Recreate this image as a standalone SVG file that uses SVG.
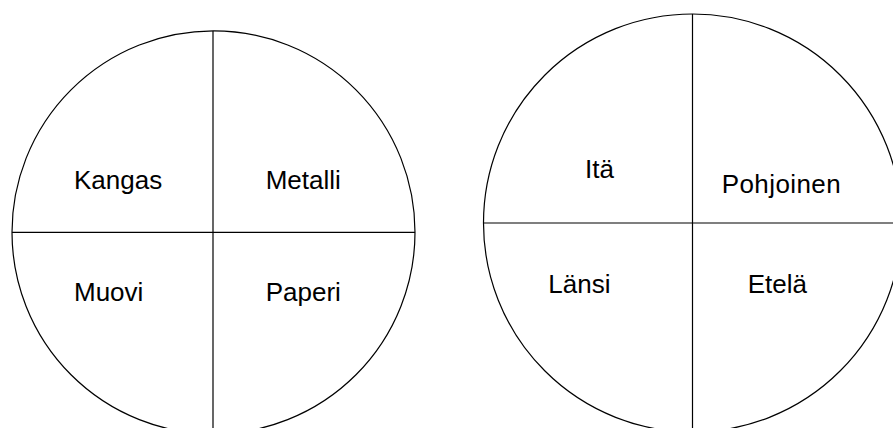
<svg xmlns="http://www.w3.org/2000/svg" width="893" height="428" viewBox="0 0 893 428">
<style>
.c{fill:none;stroke:#000;stroke-width:1.2}
.l{stroke:#000;stroke-width:1.2}
.t{font-family:"Liberation Sans",Arial,sans-serif;font-size:26px;fill:#000}
</style>
<rect width="893" height="428" fill="#fff"/>
<g id="circle-left">
<circle class="c" cx="213.5" cy="232.3" r="201.5"/>
</g>
<g id="circle-right">
<circle class="c" cx="692.5" cy="223" r="209"/>
</g>
<g id="connectors">
<line class="l" x1="213" y1="31" x2="213" y2="428"/>
<line class="l" x1="12" y1="232.3" x2="415" y2="232.3"/>
<line class="l" x1="692.5" y1="14" x2="692.5" y2="428"/>
<line class="l" x1="483.5" y1="223" x2="893" y2="223"/>
</g>
<g id="kangas"><text class="t" x="74" y="189.3">Kangas</text></g>
<g id="metalli"><text class="t" x="265.7" y="189.3">Metalli</text></g>
<g id="muovi"><text class="t" x="74" y="301">Muovi</text></g>
<g id="paperi"><text class="t" x="265.7" y="301">Paperi</text></g>
<g id="ita"><text class="t" x="585" y="177.7">Itä</text></g>
<g id="pohjoinen"><text class="t" x="721.7" y="192.7" textLength="119">Pohjoinen</text></g>
<g id="lansi"><text class="t" x="548.3" y="293.3">Länsi</text></g>
<g id="etela"><text class="t" x="747.7" y="293.3">Etelä</text></g>
</svg>
